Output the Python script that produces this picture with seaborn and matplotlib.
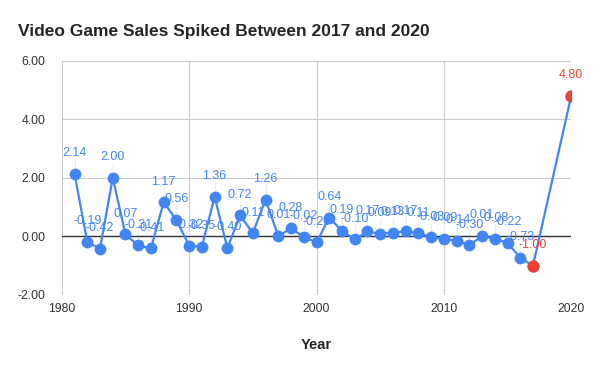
import pandas as pd
import seaborn as sns
import matplotlib.pyplot as plt

years = list(range(1981, 2018)) + [2020]
values = [2.14, -0.19, -0.42, 2.00, 0.07, -0.31, -0.41, 1.17, 0.56, -0.32,
          -0.35, 1.36, -0.40, 0.72, 0.11, 1.26, 0.01, 0.28, -0.02, -0.20,
          0.64, 0.19, -0.10, 0.17, 0.09, 0.13, 0.17, 0.11, -0.03, -0.09,
          -0.14, -0.30, 0.01, -0.08, -0.22, -0.73, -1.00, 4.80]
highlight_years = [2017, 2020]

df = pd.DataFrame({'Year': years, 'Change': values})
df['hl'] = df['Year'].isin(highlight_years)

blue = '#4285F4'
red = '#EA4335'

sns.set_style('white')
plt.rcParams['font.family'] = ['Liberation Sans', 'DejaVu Sans']

fig = plt.figure(figsize=(6, 3.71), dpi=100)
ax = fig.add_axes([0.103, 0.205, 0.849, 0.631])

sns.lineplot(data=df, x='Year', y='Change', ax=ax, color=blue, linewidth=1.6,
             marker='o', markersize=8.5, markeredgewidth=0, zorder=3)
sns.scatterplot(data=df[df['hl']], x='Year', y='Change', ax=ax, color=red,
                s=78, linewidth=0, zorder=4)

# labels above points with faint leader lines
for yr, v, h in zip(df['Year'], df['Change'], df['hl']):
    c = red if h else blue
    ax.plot([yr, yr], [v + 0.2, v + 0.5], color='#ececec', lw=0.8, zorder=1)
    ax.text(yr, v + 0.5, f'{v:.2f}', color=c, fontsize=9,
            ha='center', va='bottom', zorder=5)

ax.set_xlim(1980, 2020)
ax.set_ylim(-2, 6)
ax.set_xticks([1980, 1990, 2000, 2010, 2020])
ax.set_yticks([-2, 0, 2, 4, 6])
ax.set_yticklabels([f'{t:.2f}' for t in [-2, 0, 2, 4, 6]])
ax.grid(True, color='#cccccc', linewidth=0.8)
ax.axhline(0, color='#333333', linewidth=1, zorder=2)
for s in ax.spines.values():
    s.set_visible(False)
ax.tick_params(axis='both', labelsize=8.8, colors='#333333', length=0)
ax.tick_params(axis='y', pad=12)
ax.tick_params(axis='x', pad=6)
ax.set_ylabel('')
ax.set_xlabel('Year', fontsize=10.5, fontweight='bold', labelpad=16)

fig.text(0.03, 0.915, 'Video Game Sales Spiked Between 2017 and 2020',
         fontsize=12.5, fontweight='bold', ha='left', va='center')

fig.savefig('out.png', dpi=100)
